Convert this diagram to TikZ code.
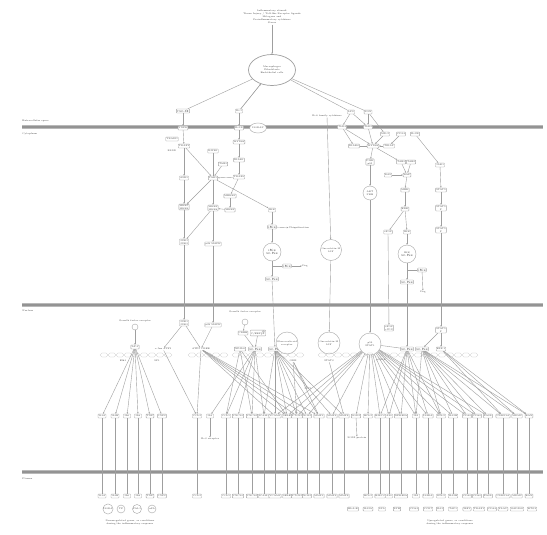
\documentclass[tikz,border=0pt]{standalone}
\usetikzlibrary{arrows.meta,shapes.geometric}
\begin{document}
\begin{tikzpicture}[x=1pt,y=-1pt,
 every node/.style={font=\fontsize{2.3}{3.1}\selectfont, text=black!75},
 gn/.style={draw=gray!70, line width=0.4pt, rounded corners=0.6pt, inner sep=0.6pt, fill=white, minimum height=4pt, minimum width=7pt, align=center},
 cir/.style={draw=gray!70, line width=0.4pt, circle, inner sep=0.4pt, fill=white, align=center},
 lbl/.style={inner sep=0.3pt, align=center},
 ed/.style={draw=gray!75, line width=0.4pt, -{Stealth[length=1.7pt,width=1.4pt]}},
 ln/.style={draw=gray!75, line width=0.4pt},
 memo/.style={line width=4.4pt, gray!55},
 memi/.style={line width=2.4pt, gray!85},
]
\fill[white] (0,0) rectangle (547,535);
\useasboundingbox (0,0) rectangle (547,535);
% membranes
\foreach \yy in {127,305,472}{\draw[memo] (22,\yy) -- (543,\yy); \draw[memi] (22,\yy) -- (543,\yy);}
\node[lbl,anchor=west] (lext) at (22,120.5) {Extracellular space};
\node[lbl,anchor=west] (lcyt) at (22,134) {Cytoplasm};
\node[lbl,anchor=west] (lnuc) at (22,311) {Nucleus};
\node[lbl,anchor=west] (lpla) at (22,478.5) {Plasma};
% top
\node[lbl] (top) at (272,17) {Inflammatory stimuli\\Tissue Injury / Toll-like Receptor ligands\\Mitogens and\\Proinflammatory cytokines\\Stress};
\node[draw=gray!75, line width=0.7pt, ellipse, minimum width=47pt, minimum height=31pt, align=center, inner sep=0pt] (ell) at (272,70) {Macrophages\\Fibroblasts\\Endothelial cells};
\draw[ed] (top) -- (ell);
% cytoplasm left
\node[gn] (tnf) at (183,111) {TNF-$\alpha$};
\node[gn] (il1) at (239,111) {IL-1};
\node[gn] (tnfr) at (183,128) {TNFR};
\node[gn] (il1r) at (239,128) {IL-1R};
\node[draw=gray!70, line width=0.4pt, ellipse, fill=white, inner sep=0.3pt, minimum width=8pt, minimum height=10pt] (ilrap) at (258,128) {IL1RAP};
\node[gn] (tradd) at (172,139) {TRADD};
\node[lbl] (fadd) at (172,151) {FADD};
\node[gn] (traf2) at (184,146) {TRAF2};
\node[gn] (ripk) at (213,151) {RIPK1};
\node[gn] (tab1) at (223,164) {TAB1};
\node[gn] (ask1) at (184,178) {ASK1};
\node[gn] (tak1) at (213,178) {TAK1};
\node[gn] (myd) at (239,142) {MYD88};
\node[gn] (irak) at (239,160) {IRAK1};
\node[gn] (traf6) at (239,177) {TRAF6};
\node[gn] (mekk) at (230,196) {MEKK1};
\node[gn] (mkk3) at (230,210) {MKK3};
\node[gn] (mkk7) at (184,207) {MKK7\\MKK4};
\node[gn] (mkk6) at (213,208) {MKK3\\MKK6};
\node[gn] (jnk) at (184,242) {JNK1\\JNK2};
\node[gn] (p38) at (213,244) {p38 MAPK};
\node[gn] (ikk) at (272,210) {IKK};
\node[gn] (ikb) at (272,227) {I$\kappa$B};
\node[lbl] (ubq) at (299,228) {Ubiquitination};
\node[cir, minimum size=18pt] (nfc) at (272,252) {I$\kappa$B\\[0.4pt]NF-$\kappa$B};
\node[gn] (ikba) at (287,266) {I$\kappa$B};
\node[lbl] (deg) at (305,266) {Deg};
\node[gn] (nfkb) at (272,279) {NF-$\kappa$B};
\coordinate (jn) at (272,266);
\draw[ed] (il1) -- (ell);
\draw[ln] (ell) -- (tnf); \draw[ln] (ell) -- (il1);
\draw[ed] (tnf) -- (tnfr); \draw[ed] (tnfr) -- (traf2); \draw[ed] (traf2) -- (ask1);
\draw[ed] (ask1) -- (mkk7); \draw[ed] (mkk7) -- (jnk);
\draw[ed] (traf2) -- (tak1); \draw[ln] (ripk) -- (tak1); \draw[ed] (tab1) -- (tak1); \draw[ed] (traf6) -- (tak1);
\draw[ed] (il1) -- (il1r); \draw[ed] (il1r) -- (myd); \draw[ed] (myd) -- (irak); \draw[ed] (irak) -- (traf6);
\draw[ed] (traf6) -- (mekk); \draw[ed] (mekk) -- (mkk3); \draw[ed] (mkk3) -- (mkk6);
\draw[ed] (tak1) -- (mkk7); \draw[ed] (tak1) -- (mkk6); \draw[ed] (tak1) -- (ikk);
\draw[ed] (mkk6) -- (jnk); \draw[ed] (mkk6) -- (p38);
\draw[ed] (ikk) -- (ikb); \draw[ed] (ikb) -- (ubq); \draw[ed] (ikb) -- (nfc); \draw[ed] (nfc) -- (nfkb);
\draw[ln] (jn) -- (ikba); \draw[ed] (ikba) -- (deg);
% cytoplasm right
\node[lbl] (il6l) at (327,116) {IL-6 family cytokines};
\node[gn] (lps) at (351,112) {LPS};
\node[gn] (pgn) at (368,112) {PGN};
\node[gn] (tlr4) at (342,127) {TLR4};
\node[gn] (tlr2) at (368,127) {TLR2};
\node[gn] (md2) at (385,134) {MD-2};
\node[gn] (cd14) at (401,134) {CD14};
\node[gn] (il2r) at (415,134) {IL-2R};
\node[gn] (irak4) at (354,146) {IRAK4};
\node[gn] (myd2) at (373,146) {MYD88};
\node[gn] (tirap) at (389,146) {TIRAP};
\node[gn] (pi3k) at (370,162) {PI3K\\p85};
\node[gn] (taba) at (401,162) {TAB1};
\node[gn] (tabb) at (411,162) {TAB2};
\node[gn] (ras) at (388,175) {RAS};
\node[gn] (raf) at (407,175) {RAF};
\node[gn] (mek) at (405,190) {MEK};
\node[gn] (erk) at (405,209) {ERK};
\node[gn] (cfos) at (388,232) {cFOS};
\node[gn] (ikk2) at (407,232) {IKK};
\node[cir, minimum size=18pt] (nfc2) at (407,254) {IKK\\[0.4pt]NF-$\kappa$B};
\node[gn] (ikb2) at (422,270) {I$\kappa$B};
\node[lbl] (deg2) at (423,292) {Deg};
\node[gn] (nfkb2) at (407,282) {NF-$\kappa$B};
\coordinate (jn2) at (407,270);
\node[cir, minimum size=14pt] (akt) at (370,193) {AKT\\PKB};
\node[gn] (jak) at (440,165) {JAK1};
\node[gn] (stat) at (441,190) {STAT5};
\node[gn] (stat2) at (441,208) {STAT5\\P};
\node[gn] (stat3) at (441,230) {STAT5\\P};
\node[cir, minimum size=21pt] (osm) at (331,250) {Oncostatin M\\LIF};
\draw[ln] (ell) -- (lps); \draw[ln] (ell) -- (pgn);
\draw[ed] (lps) -- (tlr4); \draw[ed] (lps) -- (tlr2); \draw[ed] (pgn) -- (tlr2); \draw[ed] (pgn) -- (md2);
\draw[ed] (tlr4) -- (myd2); \draw[ed] (tlr2) -- (myd2); \draw[ed] (md2) -- (myd2); \draw[ed] (cd14) -- (tirap);
\draw[ln] (irak4) -- (myd2); \draw[ed] (tirap) -- (myd2); \draw[ed] (tlr4) -- (irak4);
\draw[ed] (myd2) -- (pi3k); \draw[ed] (myd2) -- (taba); \draw[ed] (pi3k) -- (akt);
\draw[ed] (taba) -- (raf); \draw[ed] (tabb) -- (raf); \draw[ed] (ras) -- (raf);
\draw[ed] (raf) -- (mek); \draw[ed] (mek) -- (erk); \draw[ed] (erk) -- (cfos); \draw[ed] (erk) -- (ikk2);
\draw[ed] (ikk2) -- (nfc2); \draw[ed] (nfc2) -- (nfkb2); \draw[ln] (jn2) -- (ikb2); \draw[ed] (ikb2) -- (deg2);
\draw[ed] (il2r) -- (jak); \draw[ed] (jak) -- (stat); \draw[ed] (stat) -- (stat2); \draw[ed] (stat2) -- (stat3);
\draw[ed] (il6l) -- (osm);
% nucleus
\node[gn] (jnkn) at (184,323) {JNK1\\JNK2};
\node[gn] (p38n) at (213,325) {p38 MAPK};
\node[lbl] (gf1) at (135,321) {Growth factor receptor};
\node[draw=gray!70, line width=0.4pt, circle, minimum size=6pt, inner sep=0pt] (gf1c) at (135,327) {};
\node[gn] (ap1) at (135,347) {AP-1};
\node[lbl] (elk) at (123,361) {Elk1};
\node[lbl] (sp1) at (157,361) {SP1};
\node[lbl] (atf) at (163,349) {c-Jun ATF2};
\node[lbl] (creb0) at (201,349) {ATF2 CREB};
\node[lbl] (gf2) at (245,312) {Growth factor receptor};
\node[draw=gray!70, line width=0.4pt, circle, minimum size=6pt, inner sep=0pt] (gf2c) at (245,322) {};
\node[gn] (creb) at (243,333) {CREB};
\node[gn] (cebp) at (258,333) {C/EBP$\beta$};
\node[gn] (nfil6) at (240,349) {NF-IL6};
\node[gn] (nfkbn1) at (255,349) {NF-$\kappa$B};
\node[gn] (nfkbn) at (275,349) {NF-$\kappa$B};
\node[cir, minimum size=22pt] (gr) at (287,343) {Glucocorticoid\\receptor};
\node[lbl] (grl) at (293,361) {GRE};
\node[cir, minimum size=22pt] (osmn) at (329,343) {Oncostatin M\\LIF};
\node[lbl] (osml) at (329,361) {STAT3};
\node[cir, minimum size=22pt] (akn) at (370,344) {p53\\STAT1};
\node[gn] (cjunn) at (389,328) {cFOS\\cJUN};
\node[gn] (nfkbn2) at (407,349) {NF-$\kappa$B};
\node[gn] (nfkbn3) at (422,349) {NF-$\kappa$B};
\node[gn] (statn) at (441,330) {STAT5\\P};
\node[gn] (e2f) at (441,349) {E2F-1};
\node[lbl] (irf) at (308,389) {IRF1};
\node[lbl] (p53l) at (381,360) {p53RE};
% DNA strands
\foreach \a/\n in {100/9,188/5,232/9,318/20}{
  \foreach \k in {1,...,\n}{
    \draw[gray!45, line width=0.3pt, shift={(\a+8*\k-8,355)}] (0,0) -- (2,-2) -- (6,-2) -- (8,0) -- (6,2) -- (2,2) -- cycle;}}
\draw[ed] (jnk) -- (jnkn); \draw[ed] (p38) -- (p38n); \draw[ed] (nfkb) -- (nfkbn);
\draw[ed] (osm) -- (osmn); \draw[ed] (akt) -- (akn); \draw[ed] (cfos) -- (cjunn);
\draw[ed] (nfkb2) -- (nfkbn2); \draw[ed] (stat3) -- (statn); \draw[ed] (statn) -- (e2f); \draw[ed] (statn) -- (nfkbn3);
\draw[ed] (gf1c) -- (ap1); \draw[ed] (gf2c) -- (creb); \draw[ed] (creb) -- (nfkbn1); \draw[ed] (cebp) -- (nfkbn1);
\draw[ed] (jnkn) -- (atf); \draw[ed] (jnkn) -- (creb0); \draw[ed] (p38n) -- (creb0);
\draw[ln] (akn) -- (nfkbn2); \draw[ed] (grl) -- (irf);
% genes
\foreach \i/\x/\t in {1/102/IL1A,2/115/IL1B,3/127/IL6,4/138/IL8,5/150/TNF,6/162/CSF2,7/197/CCL2,8/210/IL3,9/226/CCL5,10/238/CXCL1,11/252/CXCL2,12/264/ICAM1,13/275/VCAM1,14/287/SELE,15/297/PTGS2,16/307/NOS2,17/319/MMP1,18/332/MMP3,19/344/MMP9,20/356/SOD2,21/368/BCL2,22/380/BIRC3,23/389/A20,24/401/NFKBIA,25/416/IL2,26/428/IL2RA,27/441/IFNG,28/453/IL12B,29/467/CD40,30/477/CD80,31/488/FASL,32/503/CDKN1A,33/517/MDM2,34/529/BAX}{
  \node[gn] (g\i) at (\x,416) {\t};}
\foreach \i/\x/\t in {1/102/IL1A,2/115/IL1B,3/127/IL6,4/138/IL8,5/150/TNF,6/162/CSF2,7/197/CCL2,9/226/CCL5,10/238/CXCL1,11/252/CXCL2,12/264/ICAM1,13/275/VCAM1,14/287/SELE,15/297/PTGS2,16/307/NOS2,17/319/MMP1,18/332/MMP3,19/344/MMP9,21/368/BCL2,22/380/BIRC3,23/389/A20,24/401/NFKBIA,25/416/IL2,26/428/IL2RA,27/441/IFNG,28/453/IL12B,29/467/CD40,30/477/CD80,31/488/FASL,32/503/CDKN1A,33/517/MDM2,34/529/BAX}{
  \node[gn] (p\i) at (\x,496) {\t}; \draw[ln] (g\i) -- (p\i);}
\node[lbl] (g8l) at (210,439) {IL-3 receptor};
\node[lbl] (g20l) at (357,438) {SOD2 protein};
\draw[ed] (g8) -- (g8l); \draw[ed] (g20) -- (g20l);
% fan edges
\foreach \i in {1,...,6}{\draw[ed] (ap1) -- (g\i);}
\foreach \i in {7,13,14,15,16,17}{\draw[ed] (creb0) -- (g\i);}
\draw[ed] (atf) -- (g7);
\foreach \i in {8,9,10,11,12}{\draw[ed] (nfkbn1) -- (g\i);}
\foreach \i in {9,11,14}{\draw[ed] (nfil6) -- (g\i);}
\foreach \i in {12,13,14,15,16,17,18,19}{\draw[ed] (nfkbn) -- (g\i);}
\foreach \i in {15,17}{\draw[ed] (grl) -- (g\i);}
\draw[ed] (osml) -- (g19);
\foreach \i in {13,14,15,16,18,20,21,22,23,24,25,26,27,28,29,30,31}{\draw[ed] (akn) -- (g\i);}
\foreach \i in {22,23,24,25,26,27}{\draw[ed] (nfkbn2) -- (g\i);}
\foreach \i in {25,27,28,29,30,31,32,33,34}{\draw[ed] (nfkbn3) -- (g\i);}
\foreach \i in {32,33,34}{\draw[ed] (e2f) -- (g\i);}
% bottom extra rows
\foreach \i/\x/\t in {1/108/IL1RA,2/121/TF,3/137/PAI-1,4/152/uPA}{\node[cir, minimum size=8pt] (xl\i) at (\x,509) {\t};}
\foreach \i/\x/\t in {1/353/HLA-B,2/368/IL12A,3/382/LTA,4/397/LTB,5/414/CD83,6/428/CCR7,7/440/IL15,8/453/TAP1,9/467/IRF1,10/479/TRAF1,11/492/CD44,12/503/PLAU,13/517/GADD45,14/532/BTG2}{\node[gn] (xr\i) at (\x,509) {\t};}
\node[lbl] (bl) at (130,522) {Downregulated genes, or conditions\\during the inflammatory response};
\node[lbl] (br) at (450,522) {Upregulated genes, or conditions\\during the inflammatory response};
\end{tikzpicture}
\end{document}
